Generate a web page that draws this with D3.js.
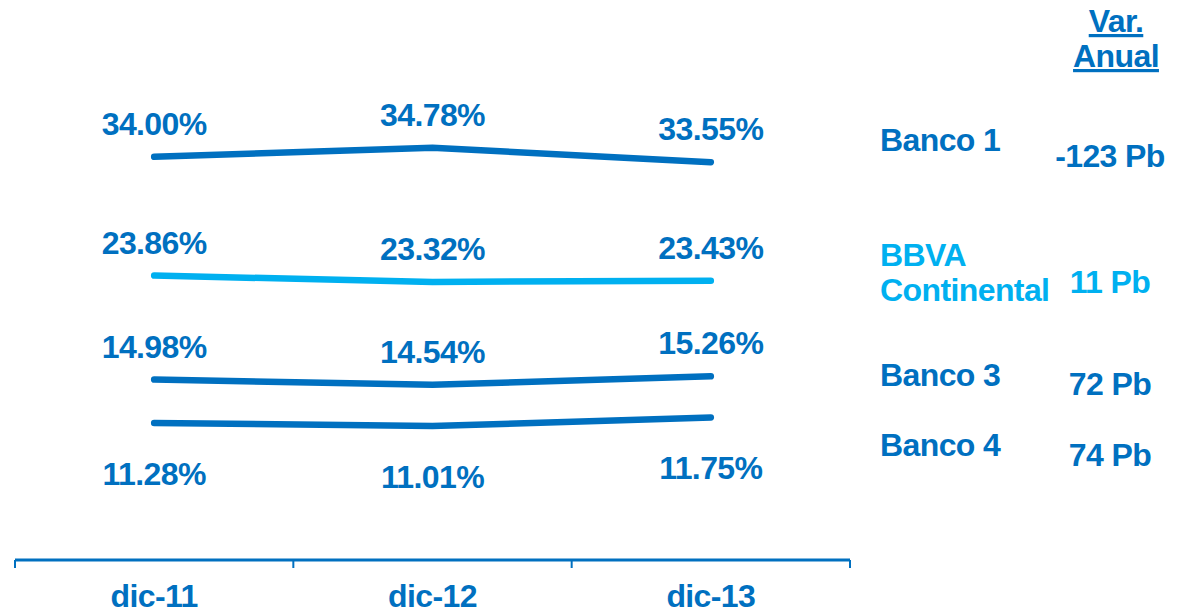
<!DOCTYPE html>
<html>
<head>
<meta charset="utf-8">
<script src="https://cdn.jsdelivr.net/npm/d3@7"></script>
<style>
  body { margin: 0; background: #fff; }
  text { font-family: Arial, "Liberation Sans", sans-serif; font-weight: bold; letter-spacing: -0.6px; }
</style>
</head>
<body>
<svg id="chart" width="1189" height="613"></svg>
<script>
// Data
var periods = ['dic-11', 'dic-12', 'dic-13']
var banks = ['Banco 1', 'BBVA Continental', 'Banco 3', 'Banco 4']
var banco1 = [34.00, 34.78, 33.55]
var bbva = [23.86, 23.32, 23.43]
var banco3 = [14.98, 14.54, 15.26]
var banco4 = [11.28, 11.01, 11.75]
var varAnual = ['-123 Pb', '11 Pb', '72 Pb', '74 Pb']

var dark = '#0070C0'
var light = '#00B0F0'
var fontSize = 32

var svg = d3.select('#chart')
var axisY = 560

var x = d3.scaleBand().domain(periods).range([15, 850])
var y = d3.scaleLinear().domain([0, 40]).range([555, 86.6])

var series = [
  { name: banks[0], values: banco1, color: dark, labelDy: -22, legendY: [151], varY: 167 },
  { name: banks[1], values: bbva, color: light, labelDy: -22, legendY: [266, 301], varY: 293 },
  { name: banks[2], values: banco3, color: dark, labelDy: -22, legendY: [386], varY: 395 },
  { name: banks[3], values: banco4, color: dark, labelDy: 62, legendY: [456], varY: 466 }
]

var line = d3.line()
  .x(function (d, i) { return x(periods[i]) + x.bandwidth() / 2 })
  .y(function (d) { return y(d) })

series.forEach(function (s, k) {
  svg.append('path')
    .datum(s.values)
    .attr('d', line)
    .attr('fill', 'none')
    .attr('stroke', s.color)
    .attr('stroke-width', 6.5)
    .attr('stroke-linecap', 'round')
    .attr('stroke-linejoin', 'round')

  svg.selectAll('.lbl' + k)
    .data(s.values)
    .enter().append('text')
    .attr('x', function (d, i) { return x(periods[i]) + x.bandwidth() / 2 })
    .attr('y', function (d) { return y(d) + s.labelDy })
    .attr('text-anchor', 'middle')
    .attr('font-size', fontSize)
    .attr('fill', dark)
    .text(function (d) { return d.toFixed(2) + '%' })

  // legend name (BBVA Continental goes on two lines)
  var words = k === 1 ? ['BBVA', 'Continental'] : [s.name]
  words.forEach(function (w, j) {
    svg.append('text')
      .attr('x', 880)
      .attr('y', s.legendY[j])
      .attr('font-size', fontSize)
      .attr('fill', s.color)
      .text(w)
  })

  svg.append('text')
    .attr('x', 1110)
    .attr('y', s.varY)
    .attr('text-anchor', 'middle')
    .attr('font-size', fontSize)
    .attr('fill', s.color)
    .text(varAnual[k])
})

// header
;['Var.', 'Anual'].forEach(function (w, j) {
  svg.append('text')
    .attr('x', 1116)
    .attr('y', 32 + j * 35)
    .attr('text-anchor', 'middle')
    .attr('font-size', fontSize)
    .attr('fill', dark)
    .attr('text-decoration', 'underline')
    .text(w)
})

// x axis: line with ticks at band edges
var g = svg.append('g')
g.append('line')
  .attr('x1', x.range()[0]).attr('x2', x.range()[1])
  .attr('y1', axisY).attr('y2', axisY)
  .attr('stroke', dark).attr('stroke-width', 3)
var edges = periods.map(function (p) { return x(p) }).concat([x.range()[1]])
g.selectAll('.tick')
  .data(edges)
  .enter().append('line')
  .attr('x1', function (d) { return d }).attr('x2', function (d) { return d })
  .attr('y1', axisY).attr('y2', axisY + 8)
  .attr('stroke', dark).attr('stroke-width', 2)
g.selectAll('.cat')
  .data(periods)
  .enter().append('text')
  .attr('x', function (d) { return x(d) + x.bandwidth() / 2 })
  .attr('y', 607)
  .attr('text-anchor', 'middle')
  .attr('font-size', fontSize)
  .attr('fill', dark)
  .text(function (d) { return d })
</script>
</body>
</html>
